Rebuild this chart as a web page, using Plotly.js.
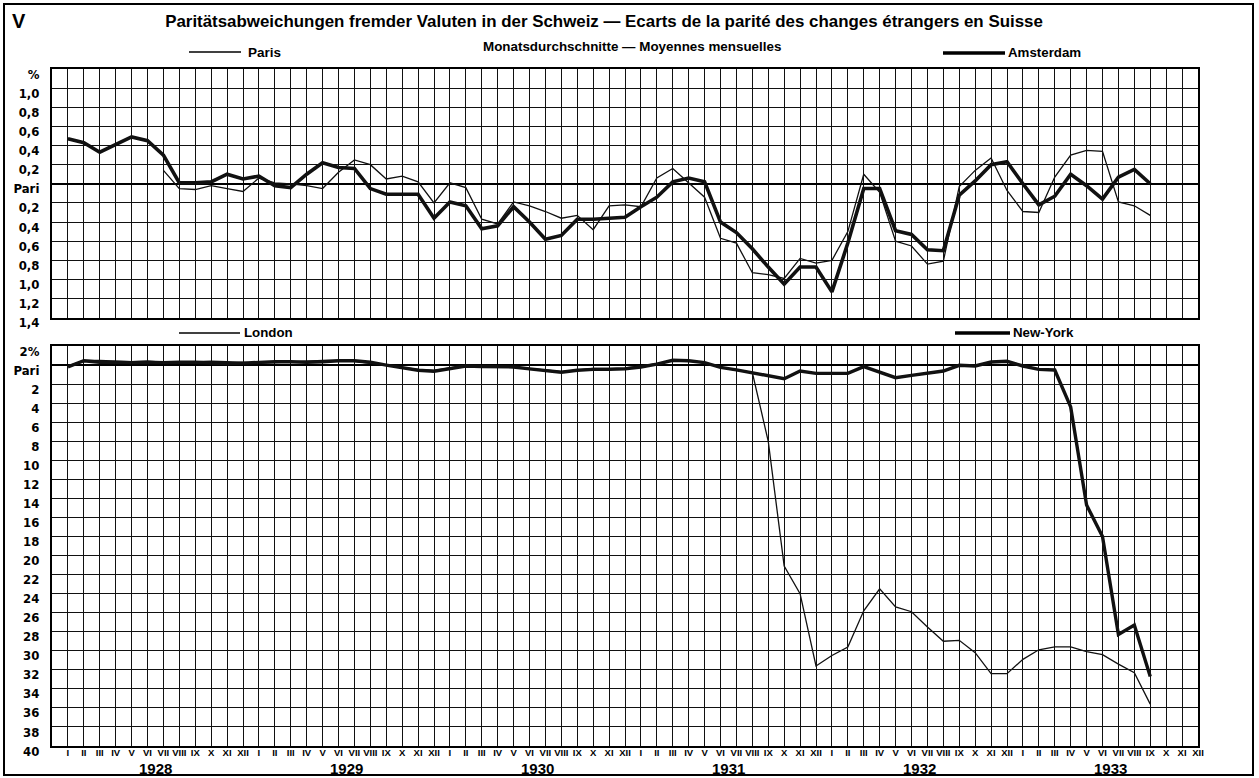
<!DOCTYPE html>
<html>
<head>
<meta charset="utf-8">
<script src="https://cdn.plot.ly/plotly-3.0.1.min.js"></script>
<style>html,body{margin:0;padding:0;background:#fff;}#chart{width:1259px;height:778px;}</style>
</head>
<body>
<div id="chart"></div>
<script>
// ---- data (monthly averages, deviation from parity in %; + premium, - discount) ----
const romanMonths = ["I","II","III","IV","V","VI","VII","VIII","IX","X","XI","XII"];
const years = ["1928","1929","1930","1931","1932","1933"];

const amsterdam = [0.47,0.43,0.33,0.41,0.49,0.45,0.30,0.01,0.01,0.02,0.10,0.05,
  0.08,-0.02,-0.04,0.10,0.22,0.17,0.16,-0.05,-0.11,-0.11,-0.11,-0.36,
  -0.19,-0.23,-0.47,-0.44,-0.24,-0.40,-0.58,-0.54,-0.37,-0.37,-0.36,-0.35,
  -0.24,-0.14,0.02,0.06,0.02,-0.40,-0.51,-0.68,-0.87,-1.05,-0.87,-0.87,
  -1.13,-0.62,-0.05,-0.05,-0.49,-0.53,-0.69,-0.70,-0.12,0.03,0.20,0.23,
  0.00,-0.22,-0.13,0.10,-0.02,-0.16,0.07,0.15,0.00];

const paris = [null,null,null,null,null,null,0.14,-0.05,-0.06,-0.02,-0.05,-0.08,
  0.06,0.01,0.00,-0.02,-0.05,0.12,0.25,0.20,0.05,0.08,0.02,-0.20,
  0.01,-0.04,-0.37,-0.42,-0.19,-0.23,-0.29,-0.36,-0.33,-0.48,-0.23,-0.22,
  -0.24,0.06,0.16,0.01,-0.14,-0.57,-0.62,-0.93,-0.95,-0.99,-0.78,-0.83,
  -0.80,-0.50,0.10,-0.09,-0.60,-0.65,-0.84,-0.81,-0.03,0.14,0.27,-0.07,
  -0.29,-0.30,0.07,0.30,0.35,0.34,-0.19,-0.23,-0.33];

const newYork = [-0.2,0.45,0.3,0.25,0.25,0.3,0.25,0.3,0.3,0.2,0.15,0.2,
  0.3,0.35,0.35,0.3,0.35,0.45,0.45,0.3,0.0,-0.3,-0.55,-0.65,
  -0.35,-0.1,-0.15,-0.2,-0.2,-0.4,-0.55,-0.75,-0.55,-0.45,-0.45,-0.4,
  -0.2,0.1,0.5,0.45,0.25,-0.25,-0.5,-0.8,-1.08,-1.43,-0.63,-0.87,
  -0.87,-0.87,-0.17,-0.73,-1.33,-1.08,-0.87,-0.63,-0.03,-0.1,0.32,0.39,
  -0.1,-0.45,-0.52,-4.4,-14.7,-18.0,-28.3,-27.3,-32.7];

const london = [-0.1,0.5,0.5,0.4,0.35,0.4,0.3,0.3,0.35,0.4,0.35,0.3,
  0.2,0.25,0.3,0.4,0.5,0.5,0.4,0.2,-0.05,-0.25,-0.45,-0.55,
  -0.3,-0.05,-0.1,-0.1,-0.25,-0.35,-0.5,-0.7,-0.5,-0.35,-0.35,-0.3,
  -0.1,0.15,0.5,0.45,0.2,-0.25,-0.55,-0.8,-8.0,-21.1,-24.0,-31.6,
  -30.5,-29.6,-25.8,-23.5,-25.4,-25.9,-27.5,-29.0,-28.9,-30.2,-32.4,-32.4,
  -30.9,-29.9,-29.6,-29.6,-30.1,-30.4,-31.4,-32.3,-35.6];

const topTickVals = [1.2,1.0,0.8,0.6,0.4,0.2,0,-0.2,-0.4,-0.6,-0.8,-1.0,-1.2,-1.4];
const topTickTextL = ["%","1,0","0,8","0,6","0,4","0,2","Pari","0,2","0,4","0,6","0,8","1,0","1,2","1,4"];
const topTickTextR = ["%","1,0","0,8","0,6","0.4","0,2","Pari","0,2","0,4","0,6","0,8","1,0","1,2","1,4"];
const botTickVals = [2,0,-2,-4,-6,-8,-10,-12,-14,-16,-18,-20,-22,-24,-26,-28,-30,-32,-34,-36,-38,-40];
const botTickTextL = ["2%","Pari","2","4","6","8","10","12","14","16","18","20","22","24","26","28","30","32","34","36","38","40"];
const botTickTextR = ["2 %","Pari","2","4","6","8","10","12","14","16","18","20","22","24","26","28","30","32","34","36","38","40"];

// ---- build ----
const monthTicks = [];
const monthText = [];
years.forEach((y, yi) => romanMonths.forEach((m, mi) => { monthTicks.push(yi*12+mi); monthText.push(m); }));
const idx = arr => arr.map((_, i) => i);

const INK = "#111";
const FONT = "Liberation Sans, Arial, Helvetica, sans-serif";
const NARROW = "Liberation Sans Narrow, Arial Narrow, DejaVu Sans Condensed, Liberation Sans, sans-serif";

const L = 52, R = 1198, T = 69, B = 746;
const px = x => (x - L) / (R - L);
const py = y => (B - y) / (B - T);

const traces = [
  {x: idx(paris), y: paris, xaxis: "x", yaxis: "y", mode: "lines", line: {color: INK, width: 1.3}, name: "Paris", connectgaps: false},
  {x: idx(amsterdam), y: amsterdam, xaxis: "x", yaxis: "y", mode: "lines", line: {color: INK, width: 3.6}, name: "Amsterdam"},
  {x: idx(london), y: london, xaxis: "x2", yaxis: "y2", mode: "lines", line: {color: INK, width: 1.3}, name: "London"},
  {x: idx(newYork), y: newYork, xaxis: "x2", yaxis: "y2", mode: "lines", line: {color: INK, width: 3.4}, name: "New-York"}
];

const xBase = {
  range: [-1, 71], tickvals: monthTicks, showgrid: true, gridcolor: INK, gridwidth: 1,
  showline: true, mirror: true, linecolor: "#000", linewidth: 2, zeroline: false, ticks: "", fixedrange: true
};
const tickFont = {family: NARROW, size: 13, color: "#000", weight: "bold"};

const layout = {
  width: 1259, height: 778,
  paper_bgcolor: "#fff", plot_bgcolor: "#fff",
  margin: {l: L, r: 1259 - R, t: T, b: 778 - B, pad: 0},
  showlegend: false,
  font: {family: FONT, color: "#000"},
  title: {
    text: "<b>Paritätsabweichungen fremder Valuten in der Schweiz — Ecarts de la parité des changes étrangers en Suisse</b>",
    x: 604 / 1259, xref: "container", xanchor: "center",
    y: 1 - 21 / 778, yref: "container", yanchor: "middle",
    font: {family: FONT, size: 16.9, color: "#000"}
  },
  xaxis: Object.assign({}, xBase, {anchor: "y", showticklabels: false}),
  xaxis2: Object.assign({}, xBase, {anchor: "y2", showticklabels: true, ticktext: monthText,
    tickangle: 0, ticklabelstandoff: -3, tickfont: {family: FONT, size: 9.5, color: "#000", weight: "bold"}}),
  yaxis: {
    domain: [py(317.7), 1], range: [-1.4, 1.2], tickvals: topTickVals, ticktext: topTickTextL,
    showgrid: true, gridcolor: INK, gridwidth: 1, zeroline: true, zerolinecolor: "#000", zerolinewidth: 2.5,
    showline: true, mirror: true, linecolor: "#000", linewidth: 2, ticks: "", tickfont: tickFont,
    ticklabelshift: 5, ticklabelstandoff: 8, fixedrange: true
  },
  yaxis3: {
    overlaying: "y", side: "right", anchor: "x", range: [-1.4, 1.2], tickvals: topTickVals, ticktext: topTickTextR,
    showgrid: false, zeroline: false, showline: false, ticks: "", tickfont: tickFont,
    ticklabelshift: 5, ticklabelstandoff: 5, fixedrange: true
  },
  yaxis2: {
    domain: [0, py(346)], range: [-40, 2], tickvals: botTickVals, ticktext: botTickTextL,
    showgrid: true, gridcolor: INK, gridwidth: 1, zeroline: true, zerolinecolor: "#000", zerolinewidth: 2,
    showline: true, mirror: true, linecolor: "#000", linewidth: 2, ticks: "", tickfont: tickFont,
    ticklabelshift: 5, ticklabelstandoff: 8, fixedrange: true
  },
  yaxis4: {
    overlaying: "y2", side: "right", anchor: "x2", range: [-40, 2], tickvals: botTickVals, ticktext: botTickTextR,
    showgrid: false, zeroline: false, showline: false, ticks: "", tickfont: tickFont,
    ticklabelshift: 5, ticklabelstandoff: 5, fixedrange: true
  },
  shapes: [
    {type: "rect", xref: "paper", yref: "paper", x0: px(4), x1: px(1253), y0: py(775), y1: py(4), line: {color: "#000", width: 2}},
    {type: "line", xref: "paper", yref: "paper", x0: px(189), x1: px(241), y0: py(52), y1: py(52), line: {color: "#000", width: 1.3}},
    {type: "line", xref: "paper", yref: "paper", x0: px(943), x1: px(1005), y0: py(53), y1: py(53), line: {color: "#000", width: 3.6}},
    {type: "line", xref: "paper", yref: "paper", x0: px(179), x1: px(240), y0: py(333), y1: py(333), line: {color: "#000", width: 1.3}},
    {type: "line", xref: "paper", yref: "paper", x0: px(955), x1: px(1010), y0: py(333), y1: py(333), line: {color: "#000", width: 3.6}}
  ],
  annotations: [
    {text: "<b>V</b>", xref: "paper", yref: "paper", x: px(19), y: py(21), xanchor: "center", yanchor: "middle", showarrow: false, font: {family: FONT, size: 20}},
    {text: "<b>Monatsdurchschnitte — Moyennes mensuelles</b>", xref: "paper", yref: "paper", x: px(632), y: py(47), xanchor: "center", yanchor: "middle", showarrow: false, font: {family: FONT, size: 13.4}},
    {text: "<b>Paris</b>", xref: "paper", yref: "paper", x: px(246), y: py(52), xanchor: "left", yanchor: "middle", showarrow: false, font: {family: FONT, size: 13.5}},
    {text: "<b>Amsterdam</b>", xref: "paper", yref: "paper", x: px(1006), y: py(53), xanchor: "left", yanchor: "middle", showarrow: false, font: {family: FONT, size: 13.3}},
    {text: "<b>London</b>", xref: "paper", yref: "paper", x: px(242), y: py(332), xanchor: "left", yanchor: "middle", showarrow: false, font: {family: FONT, size: 13.3}},
    {text: "<b>New-York</b>", xref: "paper", yref: "paper", x: px(1011), y: py(332), xanchor: "left", yanchor: "middle", showarrow: false, font: {family: FONT, size: 13.3}}
  ].concat(years.map((yr, yi) => ({
    text: "<b>" + yr + "</b>", xref: "x2", yref: "paper", x: yi * 12 + 5.5, y: py(768),
    xanchor: "center", yanchor: "middle", showarrow: false, font: {family: FONT, size: 15}
  })))
};

Plotly.newPlot("chart", traces, layout, {displayModeBar: false, staticPlot: true});
</script>
</body>
</html>
